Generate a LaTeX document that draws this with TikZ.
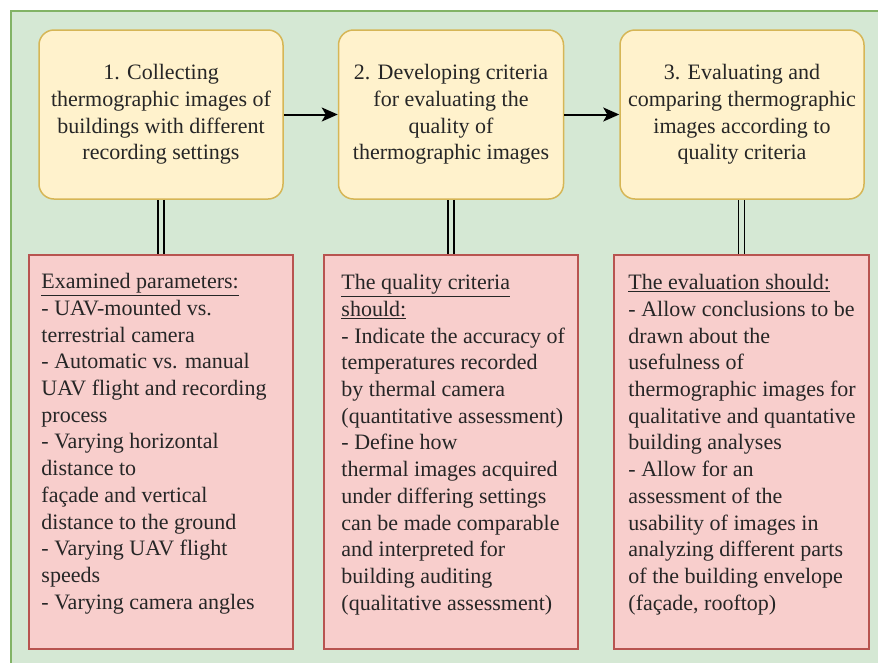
\documentclass[tikz,border=0pt]{standalone}
\usepackage{fontspec}
\setmainfont{Liberation Serif}[Ligatures=TeX]
\usetikzlibrary{arrows.meta}
\definecolor{bgfill}{HTML}{D5E8D4}
\definecolor{bgline}{HTML}{82B366}
\definecolor{stepfill}{HTML}{FFF2CC}
\definecolor{stepline}{HTML}{D6B656}
\definecolor{critfill}{HTML}{F8CECC}
\definecolor{critline}{HTML}{B85450}
\begin{document}
\begin{tikzpicture}[x=1pt, y=-1pt,
    every node/.style={font=\rmfamily\fontsize{22}{26.7}\selectfont, text=black!85},
    stepbox/.style={draw=stepline, fill=stepfill, line width=1.5pt, rounded corners=15pt,
        minimum width=244pt, minimum height=169pt, align=center, inner sep=0pt},
    critbox/.style={draw=critline, fill=critfill, line width=1.5pt,
        minimum height=394pt, inner sep=0pt},
    crittext/.style={anchor=north west, align=left, inner sep=0pt},
    flow/.style={line width=2pt, -{Stealth[length=16pt, width=14pt, inset=4pt]}},
    link/.style={double=bgfill, double distance=4.5pt, line width=1.5pt}]

    \useasboundingbox (0,0) rectangle (878,662);
    \fill[bgfill] (11,11) rectangle (880,664);
    \draw[bgline, line width=2pt] (11,664) -- (11,11) -- (880,11);

    \node[stepbox] (step1) at (161,114.5) {1. Collecting\\thermographic images of\\buildings with different\\recording settings};
    \node[stepbox, minimum width=225pt] (step2) at (451,114.5) {2. Developing criteria\\for evaluating the\\quality of\\thermographic images};
    \node[stepbox] (step3) at (742,114.5) {3. Evaluating and\\comparing thermographic\\images according to\\quality criteria};

    \node[critbox, minimum width=264pt] (crit1) at (161,452) {};
    \node[critbox, minimum width=254pt] (crit2) at (451,452) {};
    \node[critbox, minimum width=255pt] (crit3) at (741.5,452) {};

    \node[crittext] (text1) at ([shift={(13,19)}]crit1.north west)
        {\underline{Examined parameters:}\\- UAV-mounted vs.\\terrestrial camera\\- Automatic vs. manual\\UAV flight and recording\\process\\- Varying horizontal\\distance to\\façade and vertical\\distance to the ground\\- Varying UAV flight\\speeds\\- Varying camera angles};
    \node[crittext] (text2) at ([shift={(18,20)}]crit2.north west)
        {\underline{The quality criteria}\\\underline{should:}\\- Indicate the accuracy of\\temperatures recorded\\by thermal camera\\(quantitative assessment)\\- Define how\\thermal images acquired\\under differing settings\\can be made comparable\\and interpreted for\\building auditing\\(qualitative assessment)};
    \node[crittext] (text3) at ([shift={(15,20)}]crit3.north west)
        {\underline{The evaluation should:}\\- Allow conclusions to be\\drawn about the\\usefulness of\\thermographic images for\\qualitative and quantative\\building analyses\\- Allow for an\\assessment of the\\usability of images in\\analyzing different parts\\of the building envelope\\(façade, rooftop)};

    \draw[flow] (step1) -- (step2);
    \draw[flow] (step2) -- (step3);

    \draw[link] (step1) -- (crit1);
    \draw[link] (step2) -- (crit2);
    \draw[link] (step3.south -| crit3.north) -- (crit3);

\end{tikzpicture}
\end{document}
